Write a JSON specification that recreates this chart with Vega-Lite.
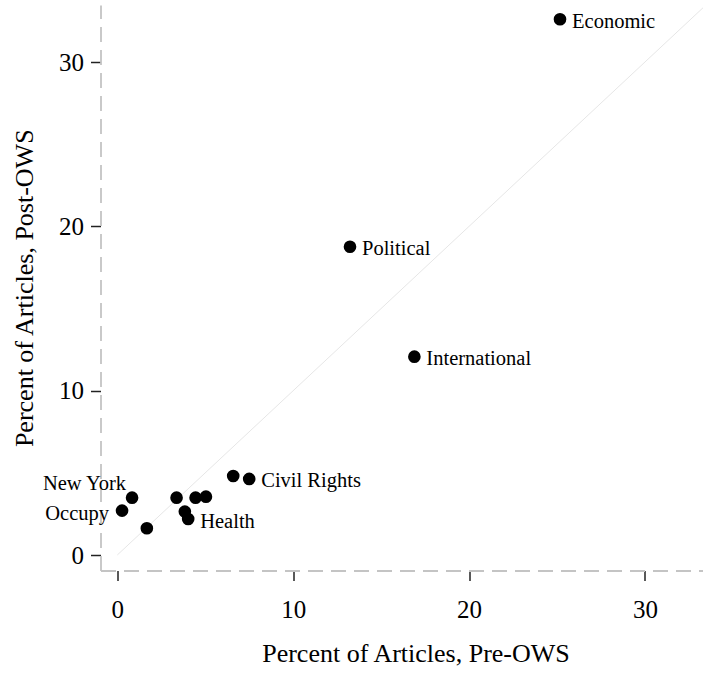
{
  "$schema": "https://vega.github.io/schema/vega-lite/v6.json",
  "autosize": "none",
  "padding": {"left": 100.5, "top": 5, "right": 0, "bottom": 102.5},
  "width": 602.5,
  "height": 565.5,
  "background": "white",
  "config": {
    "view": {"stroke": null},
    "axis": {
      "grid": false,
      "domainColor": "#c4c4c4",
      "domainWidth": 1.8,
      "domainDash": [15, 8],
      "tickColor": "#222222",
      "tickWidth": 1.5,
      "tickSize": 10,
      "labelFont": "Liberation Serif",
      "labelFontSize": 25,
      "labelColor": "#000000",
      "titleFont": "Liberation Serif",
      "titleFontSize": 26,
      "titleFontWeight": "normal",
      "titleColor": "#000000"
    },
    "text": {"font": "Liberation Serif", "fontSize": 20.5, "color": "#000000"}
  },
  "datasets": {
    "topics": [
      {"topic": "Economic", "pre": 25.17, "post": 32.6},
      {"topic": "Political", "pre": 13.23, "post": 18.76},
      {"topic": "International", "pre": 16.89, "post": 12.07},
      {"topic": "Civil Rights", "pre": 7.5, "post": 4.63},
      {"topic": "", "pre": 6.59, "post": 4.81},
      {"topic": "New York", "pre": 0.84, "post": 3.49},
      {"topic": "Occupy", "pre": 0.27, "post": 2.7},
      {"topic": "", "pre": 1.68, "post": 1.63},
      {"topic": "", "pre": 3.37, "post": 3.49},
      {"topic": "", "pre": 4.45, "post": 3.49},
      {"topic": "", "pre": 5.04, "post": 3.55},
      {"topic": "", "pre": 3.84, "post": 2.64},
      {"topic": "Health", "pre": 4.03, "post": 2.19}
    ],
    "diagonal": [
      {"pre": 0, "post": 0},
      {"pre": 33.4, "post": 33.4}
    ]
  },
  "encoding": {
    "x": {
      "field": "pre", "type": "quantitative",
      "scale": {"domain": [-0.955, 33.3], "nice": false, "zero": false},
      "axis": {"values": [0, 10, 20, 30], "title": "Percent of Articles, Pre-OWS", "labelPadding": 17, "titlePadding": 18, "titleX": 315}
    },
    "y": {
      "field": "post", "type": "quantitative",
      "scale": {"domain": [-0.943, 33.47], "nice": false, "zero": false},
      "axis": {"values": [0, 10, 20, 30], "title": "Percent of Articles, Post-OWS", "labelPadding": 7, "titlePadding": 21}
    }
  },
  "layer": [
    {
      "data": {"name": "diagonal"},
      "mark": {"type": "line", "color": "#e6e6e6", "strokeWidth": 1, "clip": true},
      "encoding": {}
    },
    {
      "data": {"name": "topics"},
      "mark": {"type": "circle", "size": 160, "color": "#000000", "opacity": 1}
    },
    {
      "data": {"name": "topics"},
      "transform": [{"filter": {"field": "topic", "oneOf": ["Economic", "Political", "International", "Civil Rights", "Health"]}}],
      "mark": {"type": "text", "align": "left", "baseline": "alphabetic", "dx": 12, "dy": 8.5},
      "encoding": {"text": {"field": "topic"}}
    },
    {
      "data": {"name": "topics"},
      "transform": [{"filter": {"field": "topic", "equal": "New York"}}],
      "mark": {"type": "text", "align": "right", "baseline": "alphabetic", "dx": -6, "dy": -8},
      "encoding": {"text": {"field": "topic"}}
    },
    {
      "data": {"name": "topics"},
      "transform": [{"filter": {"field": "topic", "equal": "Occupy"}}],
      "mark": {"type": "text", "align": "right", "baseline": "alphabetic", "dx": -13, "dy": 9.3},
      "encoding": {"text": {"field": "topic"}}
    }
  ]
}
